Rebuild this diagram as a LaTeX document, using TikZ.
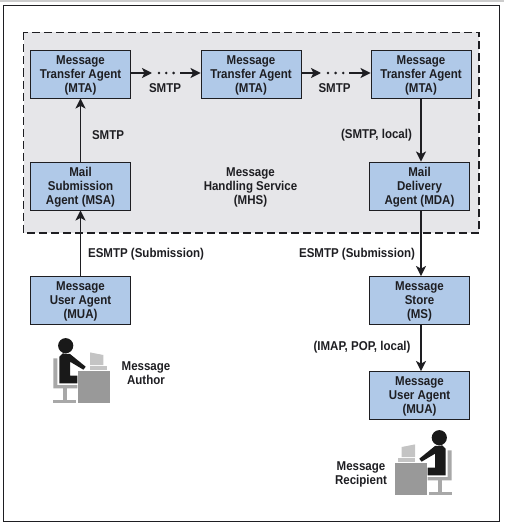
\documentclass[tikz,border=0pt]{standalone}
\usepackage{fontspec}
\setmainfont{Liberation Sans}[FakeStretch=0.9]
\usetikzlibrary{arrows.meta}
\definecolor{mhsblue}{HTML}{B0C9E8}
\definecolor{mhsgray}{HTML}{E6E6E9}
\definecolor{mhsink}{HTML}{1E1E22}
\definecolor{deskgray}{HTML}{999999}
\definecolor{chairgray}{HTML}{A8A8A8}
\definecolor{screengray}{HTML}{C4C4C4}
\tikzset{
  agentbox/.style={draw=mhsink, fill=mhsblue, line width=0.9pt, minimum width=100pt, minimum height=48pt, inner sep=0pt, align=center, text=mhsink, text depth=-5.4pt, font=\fontsize{12.8}{14}\selectfont\bfseries},
  flowlabel/.style={inner sep=0pt, align=center, text=mhsink, font=\fontsize{12.8}{14}\selectfont\bfseries},
  flowarrow/.style={draw=mhsink, line width=1.7pt, -{Stealth[length=10pt,width=10pt,inset=2.5pt]}},
  flowdot/.style={circle, fill=mhsink, inner sep=0pt, minimum size=2.8pt},
  pics/deskuser/.style={code={
    % desk, screen and keyboard
    \fill[deskgray] (12.7,25) rectangle (44.3,57.7);
    \fill[screengray] (24.3,20.3) rectangle (41,24.3);
    \fill[screengray] (24.3,6.7) -- (37.7,9.3) -- (37.7,19.3) -- (24.3,19.3) -- cycle;
    % chair
    \fill[chairgray] (-12.3,12.7) -- (-8.3,12.7) -- (-8.3,39.3) -- (11.7,39.3) -- (11.7,42.7) -- (-12.3,42.7) -- cycle;
    \fill[chairgray] (-3,42.7) rectangle (1,54.3);
    \fill[chairgray] (-13,54.3) rectangle (10.3,57.7);
    % person
    \fill[black!90] (0,0) circle (7.6);
    \fill[black!90] (-6.3,11) -- (-3,7.7) -- (4.3,8.3) -- (20,21) -- (17.7,24) -- (4.3,16) -- (4.3,30) -- (11.7,30) -- (11.7,37.7) -- (-6.3,37.7) -- cycle;
  }}
}
\begin{document}
\begin{tikzpicture}[x=1pt,y=-1pt]
  \useasboundingbox (0,0) rectangle (504,527);
  % page frame and service area
  \fill[black!20] (0,0) rectangle (504,2);
  \draw[mhsink, line width=1pt] (3.5,5.5) rectangle (499,521);
  \draw[mhsink, fill=mhsgray, line width=1.9pt, dash pattern=on 8pt off 4pt] (23.5,32.5) rectangle (479,233);

  % agents
  \node[agentbox] (mta1) at (80.5,74) {Message\\Transfer Agent\\(MTA)};
  \node[agentbox] (mta2) at (251,74) {Message\\Transfer Agent\\(MTA)};
  \node[agentbox] (mta3) at (421,74) {Message\\Transfer Agent\\(MTA)};
  \node[agentbox] (msa) at (80.5,186) {Mail\\Submission\\Agent (MSA)};
  \node[agentbox] (mda) at (419.5,186) {Mail\\Delivery\\Agent (MDA)};
  \node[agentbox] (muaauthor) at (80.5,300.5) {Message\\User Agent\\(MUA)};
  \node[agentbox] (ms) at (419.5,300.5) {Message\\Store\\(MS)};
  \node[agentbox] (muarecipient) at (419.5,395.5) {Message\\User Agent\\(MUA)};

  % dotted hops between the transfer agents
  \foreach \n/\x in {a/159, b/166.3, c/173.6, d/328, e/335.6, f/343.2}{
    \node[flowdot] (dot\n) at (\x,73) {};
  }
  \coordinate (hopaend) at (152,73);
  \coordinate (hopbstart) at (180,73);
  \coordinate (hopcend) at (321,73);
  \coordinate (hopdstart) at (349,73);
  \draw[flowarrow] (mta1.east |- hopaend) -- (hopaend);
  \draw[flowarrow] (hopbstart) -- (mta2.west |- hopbstart);
  \draw[flowarrow] (mta2.east |- hopcend) -- (hopcend);
  \draw[flowarrow] (hopdstart) -- (mta3.west |- hopdstart);

  % vertical flows
  \draw[flowarrow] (msa) -- (mta1);
  \draw[flowarrow] (muaauthor) -- (msa);
  \draw[flowarrow] (mta3.south) -- (mta3.south |- mda.north);
  \draw[flowarrow] (mda.south -| mta3.south) -- (mta3.south |- ms.north);
  \draw[flowarrow] (ms.south -| mta3.south) -- (mta3.south |- muarecipient.north);

  % labels
  \node[flowlabel] (smtpa) at (165,88.5) {SMTP};
  \node[flowlabel] (smtpb) at (334.5,88.5) {SMTP};
  \node[flowlabel] (smtpc) at (108,135) {SMTP};
  \node[flowlabel] (smtplocal) at (376.5,135) {(SMTP, local)};
  \node[flowlabel] (mhs) at (250.5,187) {Message\\Handling Service\\(MHS)};
  \node[flowlabel] (esmtpa) at (146,254) {ESMTP (Submission)};
  \node[flowlabel] (esmtpb) at (357,254) {ESMTP (Submission)};
  \node[flowlabel] (imap) at (362,347) {(IMAP, POP, local)};
  \node[flowlabel] (author) at (146,373) {Message\\Author};
  \node[flowlabel] (recipient) at (361,474) {Message\\Recipient};

  % people at their desks
  \pic at (65.7,345.7) {deskuser};
  \pic[xscale=-1] at (439.3,437.7) {deskuser};
\end{tikzpicture}
\end{document}
